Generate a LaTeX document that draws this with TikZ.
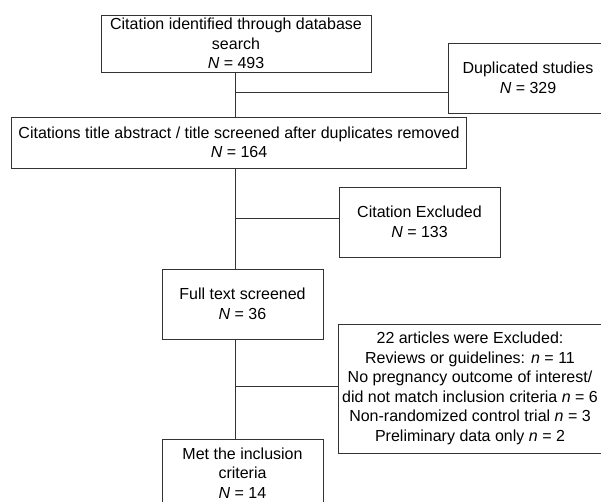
\documentclass[tikz,border=0pt]{standalone}
\usepackage{fontspec}
\setmainfont{Liberation Sans}
\usetikzlibrary{positioning}

\begin{document}
\begin{tikzpicture}[x=1pt, y=-1pt,
  stage/.style={draw=black!80, line width=1pt, align=center, inner sep=0pt,
    font=\fontsize{16}{19.5}\selectfont},
  link/.style={draw=black!80, line width=1pt}]

% Frame
\useasboundingbox (0,0) rectangle (601,501);

% Stages
\node[stage, minimum width=270pt, minimum height=57pt] (ident) at (236,43.5)
  {Citation identified through database\\search\\\textit{N} = 493};
\node[stage, minimum width=160pt, minimum height=70pt] (dupl) at (528,78)
  {Duplicated studies\\\textit{N} = 329};
\node[stage, minimum width=455.5pt, minimum height=51pt] (screen) at (239,142.5)
  {Citations title abstract / title screened after duplicates removed\\\textit{N} = 164};
\node[stage, minimum width=161pt, minimum height=70pt] (excl) at (419.5,222)
  {Citation Excluded\\\textit{N} = 133};
\node[stage, minimum width=161pt, minimum height=70pt] (full) at (242.5,304)
  {Full text screened\\\textit{N} = 36};
\node[stage, minimum width=264pt, minimum height=129pt] (reasons) at (470,388.5)
  {22 articles were Excluded:\\
   Reviews or guidelines: \textit{n} = 11\\
   No pregnancy outcome of interest/\\
   did not match inclusion criteria \textit{n} = 6\\
   Non-randomized control trial \textit{n} = 3\\
   Preliminary data only \textit{n} = 2};
\node[stage, minimum width=161pt, minimum height=68pt] (met) at (242.5,473)
  {Met the inclusion\\criteria\\\textit{N} = 14};

% Junctions on the spine
\coordinate (spine) at (235,0);
\coordinate (j1) at (235,92);
\coordinate (j2) at (235,218);
\coordinate (j3) at (235,386);

% Connectors
\draw[link] (ident.south -| spine) -- (screen.north -| spine);
\draw[link] (screen.south -| spine) -- (full.north -| spine);
\draw[link] (full.south -| spine) -- (met.north -| spine);
\draw[link] (j1) -- (j1 -| dupl.west);
\draw[link] (j2) -- (j2 -| excl.west);
\draw[link] (j3) -- (j3 -| reasons.west);

\end{tikzpicture}
\end{document}
